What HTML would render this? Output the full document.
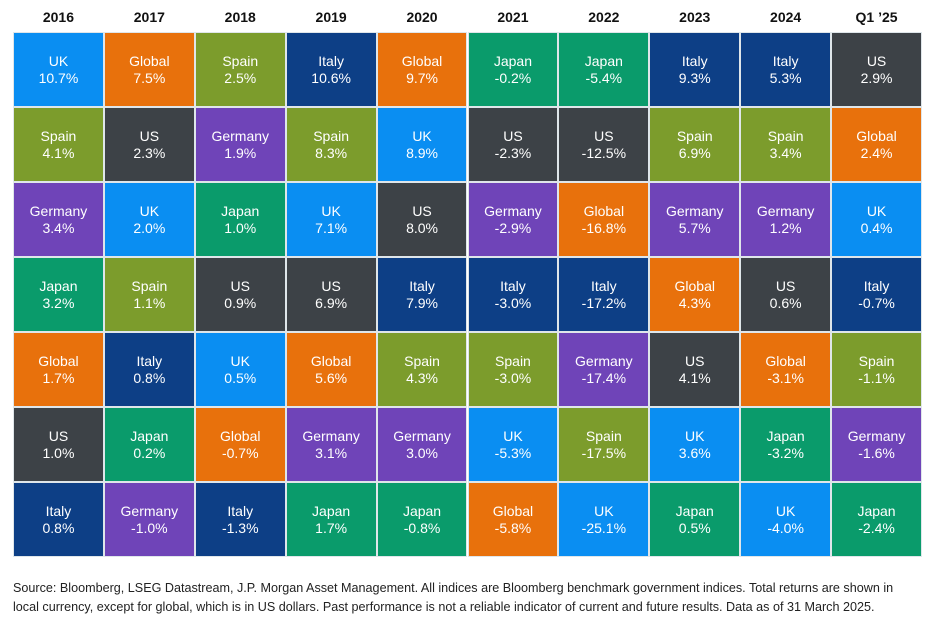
<!DOCTYPE html>
<html><head><meta charset="utf-8"><style>
body{margin:0;width:931px;height:638px;background:#fff;font-family:"Liberation Sans",sans-serif;overflow:hidden;position:relative}
.hdr{position:absolute;top:9px;font-size:14px;font-weight:bold;color:#111;text-align:center}
.cell{position:absolute;box-sizing:border-box;border:0.5px solid #dfe6ea;color:#fff;text-align:center;font-size:14px;line-height:17px;display:flex;flex-direction:column;justify-content:center;padding-top:1px}
#src{position:absolute;left:13px;top:579px;font-size:12.6px;line-height:19px;color:#222;width:905px}
</style></head><body>
<div id="chart"></div>
<div id="src">Source: Bloomberg, LSEG Datastream, J.P. Morgan Asset Management. All indices are Bloomberg benchmark government indices. Total returns are shown in<br>local currency, except for global, which is in US dollars. Past performance is not a reliable indicator of current and future results. Data as of 31 March 2025.</div>
<script>
const years=["2016","2017","2018","2019","2020","2021","2022","2023","2024","Q1 \u201925"];
const names=[
["UK","Spain","Germany","Japan","Global","US","Italy"],
["Global","US","UK","Spain","Italy","Japan","Germany"],
["Spain","Germany","Japan","US","UK","Global","Italy"],
["Italy","Spain","UK","US","Global","Germany","Japan"],
["Global","UK","US","Italy","Spain","Germany","Japan"],
["Japan","US","Germany","Italy","Spain","UK","Global"],
["Japan","US","Global","Italy","Germany","Spain","UK"],
["Italy","Spain","Germany","Global","US","UK","Japan"],
["Italy","Spain","Germany","US","Global","Japan","UK"],
["US","Global","UK","Italy","Spain","Germany","Japan"]];
const values=[
[10.7,4.1,3.4,3.2,1.7,1.0,0.8],
[7.5,2.3,2.0,1.1,0.8,0.2,-1.0],
[2.5,1.9,1.0,0.9,0.5,-0.7,-1.3],
[10.6,8.3,7.1,6.9,5.6,3.1,1.7],
[9.7,8.9,8.0,7.9,4.3,3.0,-0.8],
[-0.2,-2.3,-2.9,-3.0,-3.0,-5.3,-5.8],
[-5.4,-12.5,-16.8,-17.2,-17.4,-17.5,-25.1],
[9.3,6.9,5.7,4.3,4.1,3.6,0.5],
[5.3,3.4,1.2,0.6,-3.1,-3.2,-4.0],
[2.9,2.4,0.4,-0.7,-1.1,-1.6,-2.4]];
const colors={UK:"#0a8ef2",Global:"#e8710c",Spain:"#7c9c2c",US:"#3d4247",Germany:"#6f44b8",Japan:"#0a9b6b",Italy:"#0d3f86"};
const X0=13,Y0=32,CW=90.9,RH=75;
const c=document.getElementById('chart');
years.forEach((y,i)=>{
 const h=document.createElement('div');h.className='hdr';
 
 
 h.style.left=(X0+i*CW)+'px';h.style.width=CW+'px';h.textContent=y;c.appendChild(h);
 names[i].forEach((n,r)=>{
  const d=document.createElement('div');d.className='cell';
  
  
  d.style.left=(X0+i*CW)+'px';d.style.top=(Y0+r*RH)+'px';d.style.width=CW+'px';d.style.height=RH+'px';
  d.style.background=colors[n];
  d.innerHTML='<div>'+n+'</div><div>'+values[i][r].toFixed(1)+'%</div>';
  c.appendChild(d);
 });
});
</script>
</body></html>
